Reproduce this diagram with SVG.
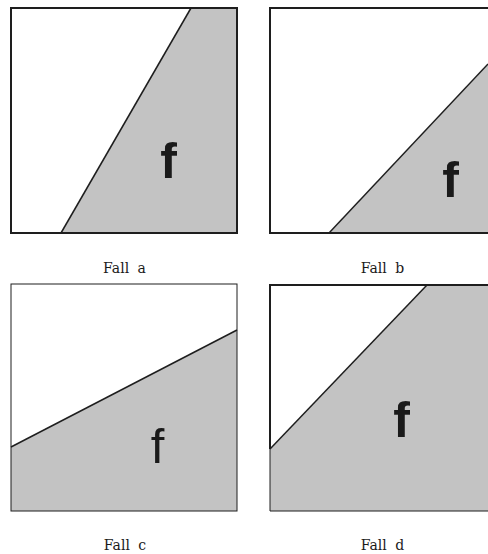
<svg xmlns="http://www.w3.org/2000/svg" width="488" height="554" viewBox="0 0 488 554">
<style>
.bg{fill:#ffffff}
.shade{fill:#c3c3c3}
.edge{fill:none;stroke:#1e1e1e;stroke-width:1.5}
.box{fill:none;stroke:#1e1e1e;stroke-width:2}
.box-thin{fill:none;stroke:#1e1e1e;stroke-width:1}
.f-bold{font-family:"Liberation Sans",Arial,sans-serif;font-weight:bold;font-size:50px;fill:#1a1a1a;text-anchor:middle}
.f-reg{font-family:"Liberation Sans",Arial,sans-serif;font-weight:normal;font-size:49px;fill:#1a1a1a;text-anchor:middle}
.cap{font-family:"DejaVu Serif","Liberation Serif",serif;font-size:14px;fill:#1a1a1a;text-anchor:middle;word-spacing:4px}
</style>
<rect class="bg" x="0" y="0" width="488" height="554"/>
<g id="panel-a">
<polygon class="shade" points="61,233 191,8 237,8 237,233"/>
<line class="edge" x1="61" y1="233" x2="191" y2="8"/>
<rect class="box" x="11" y="8" width="226" height="225"/>
<text class="f-bold" x="168.5" y="178">f</text>
<text class="cap" x="124.5" y="273">Fall a</text>
</g>
<g id="panel-b">
<polygon class="shade" points="329,233 488,64 488,233"/>
<line class="edge" x1="329" y1="233" x2="488" y2="64"/>
<rect class="box" x="270" y="8" width="230" height="225"/>
<text class="f-bold" x="450.5" y="197">f</text>
<text class="cap" x="382.5" y="273">Fall b</text>
</g>
<g id="panel-c">
<polygon class="shade" points="11,447 237,330 237,511 11,511"/>
<line class="edge" x1="11" y1="447" x2="237" y2="330"/>
<rect class="box-thin" x="11" y="284" width="226" height="227"/>
<text class="f-reg" x="157.5" y="463">f</text>
<text class="cap" x="125" y="550">Fall c</text>
</g>
<g id="panel-d">
<polygon class="shade" points="270,449 427,285 488,285 488,511 270,511"/>
<line class="edge" x1="270" y1="449" x2="427" y2="285"/>
<path class="box" d="M488,285 H270 V449"/>
<path class="box-thin" d="M270,449 V511 H490"/>
<text class="f-bold" x="401.5" y="437">f</text>
<text class="cap" x="382.5" y="550">Fall d</text>
</g>
<g id="connectors"></g>
</svg>
